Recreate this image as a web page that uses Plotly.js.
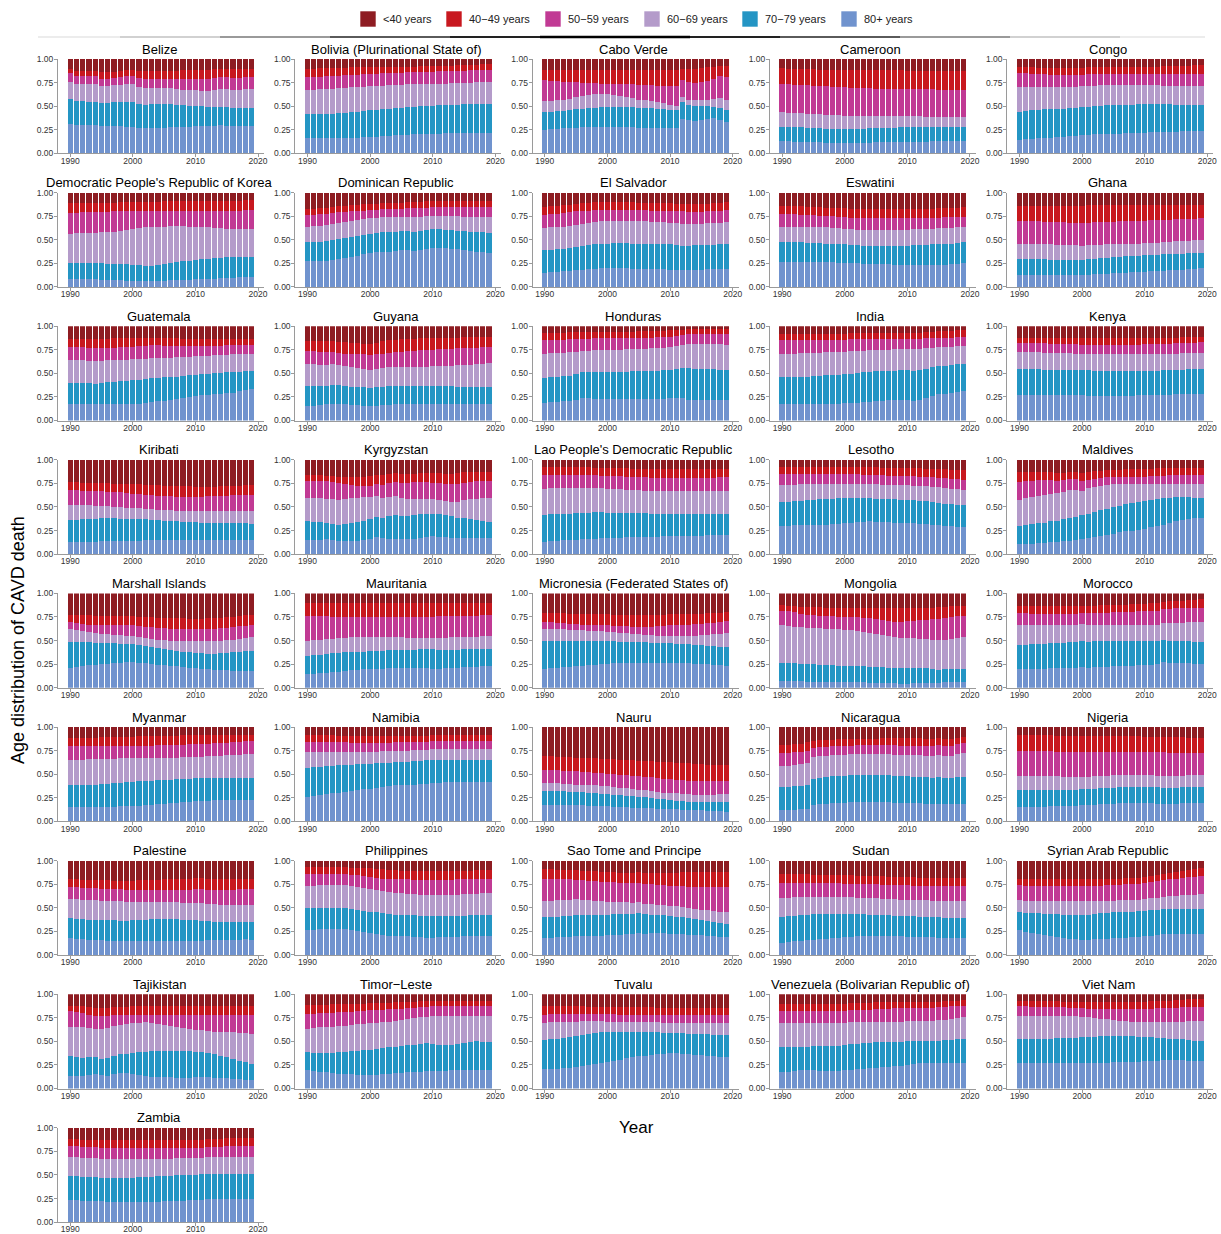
<!DOCTYPE html>
<html>
<head>
<meta charset="utf-8">
<script src="https://cdn.plot.ly/plotly-3.0.1.min.js"></script>
<style>
  html, body { margin: 0; padding: 0; background: #ffffff; }
  #chart { width: 1221px; height: 1234px; }
</style>
</head>
<body>
<div id="chart"></div>
<script>
// ---------------- DATA ----------------
const years = [1990,1991,1992,1993,1994,1995,1996,1997,1998,1999,2000,2001,2002,2003,2004,2005,2006,2007,2008,2009,2010,2011,2012,2013,2014,2015,2016,2017,2018,2019];

// age groups, bottom of the stack first
const ageGroups = ["80+ years", "70\u221279 years", "60\u221269 years", "50\u221259 years", "40\u221249 years", "<40 years"];
const ageColors = ["#7093CE", "#2495C4", "#B49BCA", "#C13A94", "#C8181F", "#8E1C22"];
// legend order, left to right
const legendOrder = ["<40 years", "40\u221249 years", "50\u221259 years", "60\u221269 years", "70\u221279 years", "80+ years"];

// For every country: cumulative share (%) at the top of 80+, 70-79, 60-69, 50-59, 40-49 (the rest is <40)
const Belize = [
 [31,30,30,30,30,29,29,29,29,28,28,27,27,27,27,27,28,28,28,28,29,29,29,29,30,29,29,29,29,29],
 [58,55,55,54,54,53,53,54,54,54,54,52,51,52,52,52,52,51,51,50,50,50,49,49,49,49,48,48,48,48],
 [76,73,73,73,73,71,71,72,72,73,73,70,69,69,69,69,69,68,67,67,67,66,66,67,68,68,67,67,68,68],
 [85,82,82,82,82,79,79,80,81,82,82,80,79,79,79,79,79,79,79,79,79,79,79,80,81,81,80,80,81,81],
 [89,87,87,87,87,86,86,86,87,88,88,87,87,87,87,87,87,87,88,88,88,88,88,89,89,89,89,89,89,89]];
const Bolivia = [
 [16,16,16,16,16,16,16,16,16,17,17,17,18,18,19,19,19,20,20,21,21,21,22,22,22,22,22,22,22,22],
 [42,42,42,42,42,43,43,44,44,45,46,46,47,47,48,48,49,49,50,50,50,51,51,51,51,52,52,52,52,52],
 [67,67,68,68,68,69,69,70,70,70,71,71,71,72,72,72,73,73,73,74,74,74,74,75,75,75,75,76,76,76],
 [81,81,81,82,82,82,83,83,83,84,84,84,85,85,85,85,86,86,86,86,86,87,87,87,87,87,88,88,88,88],
 [89,89,90,90,90,90,90,91,91,91,91,91,92,92,92,92,92,92,93,93,93,93,93,93,94,94,94,94,95,95]];
const CaboVerde = [
 [25,26,26,27,27,27,28,28,28,28,28,28,28,28,28,27,27,27,27,27,27,27,36,35,34,35,36,37,35,33],
 [44,44,45,45,46,47,47,48,48,49,49,49,49,49,49,48,48,48,47,47,46,46,54,51,50,50,50,49,48,46],
 [55,55,56,57,58,60,61,62,63,63,63,62,61,60,59,57,56,55,54,53,51,50,60,57,56,56,57,58,59,57],
 [78,77,77,76,76,76,75,75,75,74,74,74,73,73,73,72,72,72,71,71,71,71,78,76,75,76,77,79,82,81],
 [88,88,88,88,88,88,88,88,88,88,88,88,88,88,88,88,88,88,88,88,88,88,89,89,89,90,91,92,93,93]];
const Cameroon = [
 [13,13,12,12,12,12,12,11,11,11,11,11,11,11,11,12,12,12,12,12,12,12,12,12,13,13,13,13,13,13],
 [28,28,28,28,27,27,27,26,26,26,26,26,26,26,27,27,27,27,27,28,28,28,28,28,28,28,28,28,28,28],
 [44,43,43,43,42,42,42,41,41,41,40,40,40,40,40,40,40,40,40,40,40,40,40,39,39,39,39,39,39,39],
 [73,73,72,72,72,71,71,71,70,70,70,69,69,69,69,68,68,68,68,68,68,68,68,68,68,67,67,67,67,67],
 [90,89,89,89,89,89,88,88,88,88,88,88,88,88,88,88,88,88,88,88,87,87,87,87,87,87,87,87,87,87]];
const Congo = [
 [14,15,15,16,16,16,17,17,18,18,19,19,20,20,21,21,21,22,22,22,22,23,23,23,23,23,24,24,24,24],
 [44,45,46,46,47,47,47,47,48,48,49,49,50,50,51,51,51,51,51,52,52,52,52,52,52,51,51,51,51,51],
 [70,70,70,70,70,70,70,70,70,70,71,71,71,72,72,72,72,72,72,72,72,72,72,71,71,71,71,71,71,71],
 [85,85,84,84,84,83,83,83,83,83,83,84,84,84,84,84,84,84,84,84,84,84,84,84,84,84,84,84,84,84],
 [91,91,91,90,90,90,90,90,90,90,90,91,91,91,91,91,91,91,92,92,92,92,92,93,93,93,93,93,94,94]];
const DPRKorea = [
 [8,8,8,8,8,7,7,7,7,6,6,6,6,6,6,6,7,7,7,7,8,8,8,8,9,9,9,10,10,11],
 [25,25,25,25,25,25,24,24,24,24,23,23,22,22,23,24,25,26,27,28,29,30,30,31,31,32,32,32,32,32],
 [56,57,57,57,57,58,58,58,59,60,61,62,63,63,64,64,65,65,65,64,64,63,63,62,62,61,61,61,61,61],
 [78,78,79,79,79,79,79,80,80,80,80,80,80,80,80,80,80,80,80,80,80,81,81,81,81,81,81,81,82,82],
 [89,89,89,89,89,89,89,89,90,90,90,90,90,90,90,91,91,91,91,91,91,91,91,91,91,91,91,91,92,92]];
const DominicanRepublic = [
 [27,27,28,28,29,30,31,32,33,35,36,37,37,37,38,39,39,38,39,40,41,41,41,40,40,39,38,37,37,36],
 [48,48,48,49,50,51,52,53,54,55,56,57,58,58,58,59,59,58,59,60,61,61,60,60,59,59,58,58,58,57],
 [64,65,65,66,67,68,69,70,71,72,73,73,74,74,74,74,74,74,74,75,75,75,75,75,75,74,74,74,74,74],
 [76,76,77,77,78,79,79,80,81,81,82,82,83,83,83,83,84,84,84,84,85,85,85,85,85,85,85,85,85,85],
 [83,83,84,84,85,86,86,87,87,88,88,88,89,89,89,89,90,90,90,91,91,91,91,91,91,91,91,91,91,91]];
const ElSalvador = [
 [15,16,16,17,17,18,18,19,19,20,20,20,20,20,19,19,19,19,19,19,18,18,18,18,18,18,19,19,19,19],
 [39,39,40,40,41,42,43,44,45,46,46,47,47,47,46,46,46,46,45,45,45,44,43,43,44,44,44,44,45,45],
 [62,63,64,64,65,66,67,68,69,70,70,70,70,70,70,70,70,69,69,69,68,68,67,67,67,67,68,68,68,69],
 [76,77,77,78,79,80,80,81,82,82,82,82,82,82,82,82,82,81,81,81,81,80,80,79,79,79,80,80,81,82],
 [85,86,86,87,87,88,89,89,90,90,90,90,90,90,90,89,89,89,89,89,89,88,88,88,88,88,88,89,89,90]];
const Eswatini = [
 [26,26,26,26,26,26,26,26,26,25,25,25,25,24,24,24,24,24,23,23,23,23,23,23,23,23,23,24,24,25],
 [48,48,48,48,47,47,47,46,46,45,45,44,44,43,43,43,43,43,43,43,43,44,44,44,45,45,46,46,47,48],
 [64,64,64,64,63,63,63,63,62,62,61,61,60,60,60,60,60,60,60,60,60,61,61,61,61,62,62,62,63,63],
 [77,77,77,76,76,76,75,75,75,74,74,73,73,73,73,73,73,73,73,73,73,73,73,73,73,73,74,74,74,74],
 [86,86,86,86,85,85,85,84,84,84,84,83,83,83,83,83,83,83,83,83,83,83,83,83,83,84,84,84,84,85]];
const Ghana = [
 [13,13,13,13,13,13,13,13,13,13,13,13,14,14,14,15,15,15,16,16,16,17,17,17,18,18,18,19,19,20],
 [30,30,30,30,30,29,29,29,29,29,29,30,30,31,31,32,32,33,33,33,34,34,34,35,35,35,35,36,36,36],
 [45,45,45,45,45,45,44,44,44,44,43,44,44,44,45,45,45,46,46,46,47,47,47,48,48,49,49,49,50,50],
 [70,70,70,70,69,69,69,69,68,68,68,68,69,69,69,69,70,70,70,70,70,71,71,71,71,72,72,72,72,73],
 [86,86,86,86,86,86,86,86,86,86,86,87,87,87,87,87,87,87,87,87,87,87,87,87,87,87,87,87,87,87]];
const Guatemala = [
 [18,18,17,17,17,17,18,18,18,18,18,18,19,20,21,21,22,23,24,25,26,27,27,28,28,29,29,31,32,33],
 [40,40,40,40,39,40,41,41,42,42,43,43,44,45,45,46,46,46,47,48,48,49,49,50,50,51,51,51,52,53],
 [64,64,64,63,63,63,64,64,64,64,65,65,65,66,66,66,66,67,67,67,68,68,68,69,69,69,70,70,70,70],
 [78,78,78,77,77,77,77,77,78,78,78,79,79,80,80,79,79,79,79,79,79,79,79,79,79,80,80,80,80,80],
 [86,86,86,86,86,86,86,87,87,87,87,87,88,88,88,87,87,87,86,86,86,86,86,86,86,86,86,86,86,86]];
const Guyana = [
 [15,15,16,17,17,17,17,16,16,15,15,15,16,16,17,17,17,17,17,17,17,18,17,17,17,17,17,17,17,17],
 [37,37,37,37,38,38,37,36,36,35,34,35,36,37,37,37,37,37,37,37,37,37,37,37,36,36,36,36,36,36],
 [60,60,59,59,60,59,58,57,56,55,54,55,56,57,57,57,57,57,57,57,58,58,58,58,59,59,59,60,60,61],
 [74,74,73,73,73,72,71,70,70,70,69,70,71,72,73,73,74,74,75,75,75,76,76,76,77,77,77,77,78,78],
 [84,84,84,84,84,83,83,82,82,81,81,82,84,85,85,86,86,86,87,87,87,88,88,88,88,89,89,89,89,89]];
const Honduras = [
 [19,20,20,21,21,22,24,24,23,23,23,23,23,23,23,23,23,23,23,23,24,24,24,22,22,22,22,22,22,22],
 [45,46,46,47,47,49,51,51,51,51,51,51,51,51,52,52,52,53,53,54,54,55,56,56,55,55,55,55,54,54],
 [71,72,72,72,73,73,74,74,75,75,75,75,75,76,76,76,76,77,77,77,78,79,80,81,81,81,81,81,81,80],
 [85,85,85,85,86,86,86,86,87,87,87,87,87,87,88,88,88,88,89,89,89,90,91,92,92,92,92,92,92,92],
 [93,93,93,93,94,94,94,94,94,94,94,94,94,94,94,95,95,95,95,95,96,96,96,97,97,97,97,97,97,97]];
const India = [
 [17,17,17,17,17,18,18,18,18,18,19,19,19,20,20,21,21,22,22,22,22,21,22,24,26,28,28,29,30,31],
 [46,46,46,46,46,47,47,48,48,48,49,49,50,51,51,52,52,53,53,54,54,53,54,55,57,58,58,59,60,60],
 [71,71,71,72,72,72,72,73,73,73,73,74,74,74,75,75,75,75,76,76,76,76,76,77,77,78,78,78,79,79],
 [85,85,85,85,85,85,85,85,85,85,85,86,86,86,86,86,86,86,86,86,86,86,86,87,87,88,88,88,89,89],
 [92,92,92,92,92,92,92,92,92,92,92,93,93,93,93,93,93,93,93,93,93,93,93,94,94,95,95,95,96,96]];
const Kenya = [
 [27,27,27,27,27,27,27,27,27,27,27,26,26,26,26,26,26,26,26,27,27,27,27,27,27,28,28,28,28,28],
 [55,55,55,55,54,54,54,54,54,54,54,54,53,53,53,53,53,53,53,53,53,53,53,54,54,54,54,55,55,55],
 [73,73,73,73,72,72,72,72,72,71,71,71,70,70,70,70,70,70,70,70,71,71,71,71,71,71,72,72,72,72],
 [82,82,82,82,82,81,81,81,81,81,80,80,80,80,80,80,80,80,80,80,81,81,81,81,81,82,82,82,82,83],
 [88,88,88,88,88,88,88,88,88,87,87,87,87,87,87,87,87,87,87,87,88,88,88,88,88,88,89,89,89,89]];
const Kiribati = [
 [13,13,13,13,13,14,14,14,14,14,14,14,15,15,15,15,15,15,15,15,15,15,15,15,15,15,15,15,15,15],
 [36,36,37,37,37,38,38,38,37,37,37,37,37,36,36,35,35,35,34,34,34,33,33,33,33,33,33,33,33,32],
 [52,52,52,52,51,51,51,50,50,49,49,49,48,48,47,47,47,46,46,46,46,46,46,46,46,46,46,46,46,46],
 [68,68,67,67,67,67,66,66,66,65,64,64,63,63,62,62,62,61,61,61,61,61,62,62,62,62,63,63,63,63],
 [76,76,75,75,75,75,75,74,74,74,74,74,73,73,73,72,72,72,72,72,71,71,71,71,72,72,72,72,73,73]];
const Kyrgyzstan = [
 [15,15,15,16,15,14,14,14,14,15,16,18,17,16,16,16,16,16,17,18,19,18,18,17,17,17,17,17,17,17],
 [35,34,34,33,32,31,32,33,34,35,37,39,38,40,41,40,40,41,42,43,43,42,41,40,38,38,37,36,35,34],
 [59,59,59,58,58,57,58,59,60,61,61,62,60,61,62,59,58,58,58,58,58,57,56,55,55,57,58,58,59,59],
 [77,78,78,77,76,75,74,73,72,72,72,74,73,75,76,75,75,76,76,76,75,75,74,74,74,75,76,77,77,77],
 [84,84,84,83,83,82,82,82,82,82,83,84,84,85,86,85,85,85,86,86,86,86,85,85,86,87,87,87,87,87]];
const LaoPDR = [
 [13,14,14,15,15,15,16,16,16,17,17,17,17,18,18,18,18,18,18,19,19,19,19,19,19,19,20,20,20,20],
 [41,42,42,43,43,44,44,44,45,45,44,44,44,44,44,44,44,43,43,43,43,43,43,43,43,42,42,42,42,42],
 [69,70,70,70,70,70,70,70,70,70,69,69,69,68,68,68,67,67,67,67,67,67,67,67,67,67,67,67,67,67],
 [84,84,84,84,84,84,84,84,84,83,83,83,83,82,82,82,82,81,81,81,81,81,81,81,81,81,81,81,82,82],
 [92,92,92,92,92,92,92,92,91,91,91,91,91,91,90,90,90,90,90,90,90,90,90,90,90,90,90,90,90,90]];
const Lesotho = [
 [30,30,31,31,31,31,31,31,32,32,33,33,34,34,35,34,34,34,33,33,33,33,32,32,31,31,30,30,29,29],
 [55,55,56,56,57,57,58,58,58,59,59,59,59,59,59,58,58,58,58,57,57,57,56,56,55,54,53,53,52,52],
 [73,73,73,74,74,74,74,74,74,74,74,74,74,74,74,74,73,73,73,73,73,72,72,72,71,71,70,69,69,68],
 [85,85,85,85,85,85,85,85,85,85,85,85,85,84,84,84,84,83,83,83,83,83,82,82,82,81,81,80,80,79],
 [92,92,92,92,92,92,92,92,92,92,92,92,92,92,92,92,91,91,91,91,91,91,91,90,90,90,90,89,89,89]];
const Maldives = [
 [11,11,11,12,12,13,13,14,14,15,16,17,18,19,20,21,23,24,25,26,27,29,30,31,33,35,36,37,38,38],
 [30,31,32,33,33,35,35,37,38,39,41,43,45,47,48,50,51,53,54,55,56,57,58,59,60,61,61,61,60,60],
 [57,60,61,62,63,64,65,66,68,68,67,70,71,72,73,74,74,74,74,74,74,74,74,74,74,74,74,74,74,74],
 [76,78,78,79,79,79,78,79,80,80,77,79,80,81,82,82,82,82,82,82,82,83,83,83,84,84,84,84,84,84],
 [87,87,87,87,87,87,86,86,87,87,86,87,88,88,89,89,89,90,90,90,90,90,91,91,91,91,91,91,91,91]];
const MarshallIslands = [
 [21,22,23,24,24,25,25,26,26,27,27,26,26,25,24,24,23,23,22,21,21,20,20,19,19,19,18,18,18,18],
 [48,48,48,48,47,47,47,47,46,46,46,45,44,43,42,41,40,39,38,38,37,37,36,36,37,37,38,38,39,39],
 [62,61,60,59,58,57,57,56,56,55,55,54,53,52,51,51,50,50,49,49,49,49,49,49,50,51,51,52,53,54],
 [70,69,68,67,66,66,66,66,66,66,66,65,64,64,63,63,62,62,62,62,62,62,62,62,63,63,64,65,65,66],
 [77,77,77,77,76,76,76,76,76,76,76,75,75,75,74,74,74,74,74,73,73,73,74,74,74,75,75,76,77,77]];
const Mauritania = [
 [15,15,16,16,17,17,18,19,19,20,20,20,20,21,21,21,21,21,21,21,20,20,21,21,21,22,22,22,23,23],
 [34,35,35,36,37,37,38,38,38,38,39,39,39,40,40,40,40,40,41,41,41,40,40,40,40,41,41,41,41,41],
 [50,51,51,52,52,53,53,54,54,54,54,54,54,54,54,54,53,53,53,53,53,53,53,54,54,54,54,54,55,55],
 [76,76,76,76,75,75,75,75,75,75,75,75,75,75,75,75,75,75,75,75,75,76,76,76,76,76,76,76,77,77],
 [90,90,90,90,90,90,90,90,90,90,90,90,90,90,90,90,90,90,90,90,90,90,90,90,90,90,90,90,90,90]];
const Micronesia = [
 [20,21,21,22,22,23,23,24,24,25,25,26,26,26,26,26,26,26,26,26,26,26,26,26,25,25,25,24,24,23],
 [49,49,49,49,49,49,49,49,49,49,49,49,48,48,48,48,48,47,47,47,47,46,46,46,45,45,44,44,43,43],
 [62,62,62,62,61,61,61,60,60,60,59,59,58,58,57,57,56,56,55,55,55,55,55,55,55,56,56,57,57,58],
 [70,70,69,69,68,68,67,67,66,66,66,65,65,65,64,64,64,64,65,65,66,66,67,67,68,68,69,69,70,71],
 [79,79,79,79,78,78,78,78,78,78,78,77,77,77,77,77,77,77,77,77,78,78,78,78,78,78,79,79,79,80]];
const Mongolia = [
 [7,7,7,7,6,6,6,6,6,6,6,6,6,6,5,5,5,5,5,4,4,5,5,5,5,5,6,6,6,6],
 [26,26,26,25,25,25,24,24,24,23,23,23,23,23,22,22,22,21,21,21,21,21,21,21,20,19,20,20,20,20],
 [66,65,64,64,63,63,63,62,62,62,61,61,60,59,58,57,56,55,54,53,53,53,52,52,51,51,51,52,53,54],
 [81,81,80,78,77,77,76,76,76,75,75,75,75,74,74,73,72,71,70,70,71,71,72,72,73,73,74,75,76,76],
 [88,87,87,86,86,86,86,85,85,85,85,85,85,85,85,84,84,84,84,84,84,84,85,85,85,86,86,87,87,87]];
const Morocco = [
 [20,20,20,20,20,21,21,21,21,21,22,21,22,22,22,23,23,23,23,24,24,24,25,27,26,26,26,26,25,25],
 [45,45,46,46,46,47,47,47,48,48,49,48,49,49,49,49,49,49,50,50,50,50,50,51,50,50,49,49,48,48],
 [66,66,66,66,66,66,67,67,67,67,68,67,67,67,67,67,67,67,67,67,67,67,67,69,69,69,69,70,70,70],
 [79,79,78,78,78,78,78,78,78,78,79,79,79,79,79,80,80,80,80,81,81,81,81,83,83,84,84,85,85,85],
 [87,87,87,87,87,87,87,87,87,87,87,87,87,88,88,88,88,88,89,89,89,90,90,91,92,92,92,93,93,94]];
const Myanmar = [
 [15,15,15,15,15,15,15,15,16,16,16,16,17,17,18,18,19,19,20,21,22,22,22,23,23,23,23,23,23,23],
 [38,39,39,39,39,40,40,41,41,42,42,43,43,43,44,44,44,45,45,45,46,46,46,46,46,46,46,46,46,46],
 [65,65,65,66,66,66,66,66,67,67,67,67,67,67,67,67,67,67,68,68,68,68,69,69,69,70,70,70,71,71],
 [80,80,80,80,80,80,80,80,80,80,80,80,80,80,81,81,81,81,81,82,82,82,82,83,83,83,84,84,85,85],
 [88,88,88,88,88,89,89,89,89,89,89,90,90,90,90,90,90,90,91,91,91,91,91,91,92,92,92,92,92,92]];
const Namibia = [
 [26,27,28,29,30,30,31,32,33,34,34,35,36,37,38,38,39,39,40,40,41,41,42,42,42,42,42,42,42,42],
 [57,58,58,59,59,60,60,60,61,61,61,62,62,62,63,63,63,64,64,65,65,65,65,65,65,65,65,65,65,65],
 [73,74,74,74,74,74,74,74,74,74,74,74,75,75,75,75,75,76,76,76,77,77,77,77,77,77,77,77,77,77],
 [84,84,84,84,84,84,84,83,83,83,83,83,83,83,84,84,84,84,84,84,85,85,85,85,85,85,85,85,85,85],
 [91,91,91,91,91,90,90,90,90,90,90,90,90,90,90,90,90,90,90,90,91,91,91,91,92,92,92,92,92,92]];
const Nauru = [
 [17,17,17,17,17,17,17,16,16,16,16,15,15,15,14,14,14,14,13,13,13,13,12,12,12,12,11,11,11,10],
 [32,32,32,32,31,31,31,30,30,29,29,28,28,27,27,26,26,25,24,24,23,22,22,21,21,20,20,20,20,20],
 [41,41,41,40,40,39,39,38,38,37,37,36,35,35,34,33,33,32,31,30,30,30,29,29,28,28,28,28,29,29],
 [54,54,54,53,53,53,52,52,51,51,50,50,49,49,48,48,47,47,46,45,45,44,44,43,43,43,43,43,43,43],
 [69,69,68,68,68,67,67,67,67,66,66,66,65,65,65,64,64,64,63,63,63,62,62,62,61,61,60,60,60,60]];
const Nicaragua = [
 [12,12,12,13,13,17,18,18,19,19,19,20,20,20,20,20,20,20,19,19,19,19,19,18,18,18,18,18,18,18],
 [36,36,37,37,39,45,46,47,48,48,48,49,49,49,49,49,49,49,48,48,48,47,47,47,46,47,46,46,47,47],
 [59,59,60,61,62,68,69,69,70,70,70,71,71,71,71,71,71,71,70,70,70,70,70,69,69,70,69,69,71,72],
 [72,72,73,74,75,78,79,79,80,80,80,80,81,81,81,81,81,81,81,80,80,80,80,80,80,81,80,80,82,83],
 [81,81,82,82,84,85,86,86,86,87,87,87,87,87,87,87,88,88,88,88,88,88,88,87,87,88,87,87,88,89]];
const Nigeria = [
 [15,15,15,15,15,16,16,16,16,16,17,17,17,18,18,18,19,19,19,19,19,19,18,18,18,18,19,19,19,19],
 [33,33,33,33,33,33,33,33,33,33,34,34,34,35,35,35,36,36,36,36,36,36,36,35,35,35,36,36,36,36],
 [48,48,48,48,48,48,48,47,47,47,47,47,48,48,48,49,49,49,49,49,49,49,48,48,48,48,48,49,49,49],
 [75,75,75,75,75,75,74,74,74,74,74,74,74,74,74,73,73,73,73,73,73,73,73,73,72,72,72,72,72,72],
 [91,91,91,91,91,91,90,90,90,90,90,90,90,90,90,90,90,90,90,90,89,89,89,89,89,89,89,88,88,88]];
const Palestine = [
 [18,17,17,16,16,16,15,15,15,15,15,15,15,15,15,15,15,15,15,15,15,15,16,16,16,16,16,16,17,16],
 [39,38,38,37,37,37,37,37,36,36,37,37,37,38,38,38,38,38,37,37,37,36,36,35,35,35,35,35,35,35],
 [59,59,58,58,58,57,57,57,57,56,56,56,56,56,56,56,56,56,55,55,55,55,54,54,53,53,53,53,53,53],
 [72,72,71,71,71,70,70,70,70,69,69,69,69,69,69,69,69,69,69,69,70,70,69,69,69,69,69,70,70,70],
 [80,80,79,79,79,79,79,78,78,78,78,79,79,79,79,80,80,80,81,81,82,82,81,80,80,81,81,81,81,81]];
const Philippines = [
 [26,26,27,27,27,27,27,26,25,24,23,22,21,20,20,20,20,19,19,18,18,19,19,19,19,20,20,20,20,20],
 [50,50,50,50,50,50,50,49,48,47,46,45,44,43,42,42,42,42,41,41,41,41,41,41,41,41,42,42,42,42],
 [73,73,74,74,74,74,74,73,72,71,70,69,68,67,66,66,65,65,64,64,63,63,64,64,64,65,65,65,66,66],
 [86,86,86,86,86,86,86,85,85,84,83,82,81,81,80,80,80,79,79,79,79,79,79,79,80,80,80,80,81,81],
 [93,93,93,93,93,93,93,92,92,92,92,91,91,90,90,89,89,89,89,89,89,89,89,89,89,89,89,90,90,90]];
const SaoTome = [
 [18,18,19,19,19,20,20,20,20,20,21,21,21,22,22,23,22,23,23,23,22,22,22,21,21,21,20,20,19,19],
 [40,40,40,41,41,42,42,42,42,42,42,43,43,43,43,44,43,42,42,42,41,40,40,39,38,37,36,35,34,33],
 [57,57,58,58,58,59,58,58,57,57,56,56,56,56,55,56,54,54,53,53,52,52,51,50,49,48,48,47,46,46],
 [81,81,80,80,80,79,79,78,78,77,77,77,76,76,76,76,75,75,74,74,73,73,73,72,72,72,72,72,72,72],
 [91,91,90,90,90,90,89,89,89,88,88,88,87,87,87,88,87,87,87,87,87,87,88,88,88,88,88,88,88,88]];
const Sudan = [
 [13,14,15,15,16,16,17,17,18,18,19,19,20,20,20,20,20,20,20,20,19,19,19,19,19,18,18,18,18,18],
 [40,41,41,42,42,43,43,43,43,43,43,43,43,43,42,42,42,42,41,41,41,41,40,40,40,40,39,39,39,39],
 [60,60,61,61,61,61,61,61,61,61,61,61,60,60,60,60,59,59,59,58,58,58,58,58,57,57,57,57,57,57],
 [76,76,76,76,76,76,76,76,76,76,75,75,75,75,75,75,74,74,74,74,74,73,73,73,73,73,73,73,73,73],
 [86,86,86,86,86,85,85,85,85,85,85,85,84,84,84,84,84,83,83,83,83,83,82,82,82,82,82,82,82,82]];
const Syria = [
 [26,24,23,22,21,20,19,18,17,17,16,16,17,17,17,18,18,18,19,19,20,20,21,22,22,22,22,22,22,22],
 [46,44,44,44,43,43,43,42,42,42,42,42,43,44,44,45,45,46,46,47,47,48,48,49,49,49,49,49,49,49],
 [58,57,57,57,57,57,57,57,57,57,57,57,57,57,57,57,58,58,58,58,59,60,60,61,62,62,63,64,64,65],
 [74,73,73,73,73,73,73,73,73,73,73,73,73,73,74,74,74,75,75,75,76,77,78,79,80,81,82,83,83,84],
 [81,81,81,81,80,80,80,80,80,80,81,81,81,81,81,81,81,82,82,82,83,84,85,86,87,88,89,90,91,92]];
const Tajikistan = [
 [13,13,13,14,15,14,13,15,16,16,15,14,13,12,12,12,12,11,11,11,12,12,12,11,11,11,10,10,9,9],
 [34,33,32,33,33,31,32,35,37,37,38,39,39,40,40,40,40,40,40,40,39,39,38,37,35,33,31,29,28,26],
 [65,65,65,64,63,63,64,66,67,68,69,69,70,69,68,67,66,65,64,63,62,62,61,60,60,60,60,59,59,58],
 [82,81,80,78,77,77,77,78,78,78,78,78,78,78,78,78,78,78,78,78,78,78,78,78,78,78,78,78,78,78],
 [88,88,87,86,85,85,85,86,86,86,87,87,88,88,88,88,88,88,88,88,88,88,88,88,88,88,88,88,88,88]];
const TimorLeste = [
 [20,19,18,17,16,15,15,15,14,14,14,14,15,15,16,16,17,17,18,19,19,19,19,20,20,20,20,20,20,20],
 [39,38,38,38,38,39,39,40,40,41,41,42,43,44,44,45,46,46,47,48,47,46,46,46,47,48,49,50,49,49],
 [63,64,65,65,65,66,66,67,68,68,69,69,70,71,72,73,74,75,76,76,77,77,77,77,77,77,77,77,77,77],
 [79,79,80,80,80,81,81,81,82,82,83,83,83,84,84,84,85,85,86,86,87,87,87,87,87,87,87,87,87,87],
 [89,89,89,89,90,90,90,90,90,90,91,91,91,91,92,92,92,92,93,93,93,93,93,93,93,93,93,93,93,93]];
const Tuvalu = [
 [21,21,21,22,22,23,24,25,26,27,28,29,30,32,33,34,35,36,37,37,38,38,37,37,36,36,35,34,33,33],
 [51,52,53,54,55,56,57,58,59,60,60,60,60,60,60,60,60,60,60,59,59,59,59,58,58,58,58,57,57,57],
 [69,70,70,71,71,71,72,72,72,72,71,71,70,70,70,70,70,70,70,69,69,69,69,69,69,69,69,69,69,69],
 [78,79,79,79,79,79,79,79,79,79,79,79,78,78,78,78,78,78,78,78,78,78,78,78,78,78,78,78,78,78],
 [87,87,87,87,87,87,87,86,86,86,86,86,86,86,86,86,86,86,85,85,85,85,85,85,85,85,85,85,85,85]];
const Venezuela = [
 [17,18,19,20,20,20,19,19,19,19,20,20,21,21,22,22,23,23,24,24,25,26,27,27,27,27,27,27,27,27],
 [44,44,44,44,44,45,45,45,45,45,46,47,47,48,48,49,49,49,49,49,50,50,50,50,50,50,51,51,52,52],
 [69,69,69,69,69,69,69,69,69,69,69,70,70,70,70,71,71,71,71,71,72,72,72,72,72,73,73,74,75,76],
 [82,82,82,82,82,82,82,82,82,82,82,83,83,83,83,84,84,84,85,85,85,85,85,85,85,86,86,87,87,88],
 [90,90,90,90,90,90,90,90,90,90,90,91,91,91,91,92,92,92,92,92,92,92,92,92,92,92,93,93,93,94]];
const VietNam = [
 [27,27,27,27,27,27,27,27,27,27,27,27,27,27,27,28,28,28,28,28,29,29,29,30,30,30,30,29,29,29],
 [53,53,53,53,53,53,54,54,54,54,55,55,55,56,56,56,56,56,56,55,55,55,54,54,53,52,52,51,50,50],
 [77,77,77,77,77,77,77,77,77,77,76,76,75,74,74,73,72,72,71,71,71,71,71,71,71,71,71,72,72,72],
 [87,87,86,86,86,86,86,86,85,85,85,84,84,84,84,84,84,84,84,84,84,84,85,85,85,85,86,86,86,86],
 [93,93,93,93,93,93,93,92,92,92,92,92,92,92,92,92,92,92,92,92,92,93,93,93,93,94,94,95,95,95]];
const Zambia = [
 [23,23,22,22,22,22,21,21,21,21,21,21,21,21,21,22,22,22,22,23,23,23,24,24,24,24,24,25,25,25],
 [49,49,48,48,48,47,47,47,47,47,47,48,48,48,49,49,49,50,50,50,50,51,51,51,51,51,51,51,51,51],
 [69,69,68,68,68,67,67,67,67,67,67,67,67,67,67,67,67,68,68,68,68,68,69,69,69,69,69,69,69,69],
 [81,81,80,80,80,79,79,79,79,79,79,79,79,79,79,79,79,79,79,79,79,79,80,80,80,81,81,81,81,81],
 [88,88,87,87,87,87,87,87,87,87,87,87,87,87,87,87,87,87,87,87,87,87,88,88,88,89,89,89,89,89]];

const countries = [
 "Belize","Bolivia (Plurinational State of)","Cabo Verde","Cameroon","Congo",
 "Democratic People's Republic of Korea","Dominican Republic","El Salvador","Eswatini","Ghana",
 "Guatemala","Guyana","Honduras","India","Kenya",
 "Kiribati","Kyrgyzstan","Lao People's Democratic Republic","Lesotho","Maldives",
 "Marshall Islands","Mauritania","Micronesia (Federated States of)","Mongolia","Morocco",
 "Myanmar","Namibia","Nauru","Nicaragua","Nigeria",
 "Palestine","Philippines","Sao Tome and Principe","Sudan","Syrian Arab Republic",
 "Tajikistan","Timor\u2212Leste","Tuvalu","Venezuela (Bolivarian Republic of)","Viet Nam",
 "Zambia"];
const countrySeries = [
 Belize, Bolivia, CaboVerde, Cameroon, Congo,
 DPRKorea, DominicanRepublic, ElSalvador, Eswatini, Ghana,
 Guatemala, Guyana, Honduras, India, Kenya,
 Kiribati, Kyrgyzstan, LaoPDR, Lesotho, Maldives,
 MarshallIslands, Mauritania, Micronesia, Mongolia, Morocco,
 Myanmar, Namibia, Nauru, Nicaragua, Nigeria,
 Palestine, Philippines, SaoTome, Sudan, Syria,
 Tajikistan, TimorLeste, Tuvalu, Venezuela, VietNam,
 Zambia];

const xTicks = [1990, 2000, 2010, 2020];
const yTicks = [0, 0.25, 0.5, 0.75, 1];
const yTickText = ["0.00", "0.25", "0.50", "0.75", "1.00"];

// ---------------- LAYOUT ----------------
const W = 1221, H = 1234;
const NCOL = 5;
const colLeft = 58, colStep = 237.3, panelW = 206;
const rowTop = 59, rowStep = 133.6, panelH = 94.3;

const FONT = "Liberation Sans, Arial, Helvetica, sans-serif";
const traces = [];
const layout = {
  width: W, height: H,
  margin: {l: 0, r: 0, t: 0, b: 0},
  paper_bgcolor: "#ffffff",
  plot_bgcolor: "#ffffff",
  font: {family: FONT, color: "#333333"},
  barmode: "stack",
  bargap: 0,
  showlegend: false,
  annotations: [],
  shapes: []
};

countries.forEach((name, i) => {
  const r = Math.floor(i / NCOL), c = i % NCOL;
  const x0 = colLeft + c * colStep, x1 = x0 + panelW;
  const yTop = rowTop + r * rowStep, yBot = yTop + panelH;
  const xa = i === 0 ? "x" : "x" + (i + 1);
  const ya = i === 0 ? "y" : "y" + (i + 1);
  const xkey = i === 0 ? "xaxis" : "xaxis" + (i + 1);
  const ykey = i === 0 ? "yaxis" : "yaxis" + (i + 1);

  layout[xkey] = {
    domain: [x0 / W, x1 / W], anchor: ya,
    range: [1988.05, 2020.95], tickvals: xTicks, ticktext: xTicks.map(String),
    ticks: "outside", ticklen: 3, tickwidth: 1, tickcolor: "#9a9a9a",
    ticklabelstandoff: -4,
    showline: true, linecolor: "#9a9a9a", linewidth: 1,
    showgrid: false, zeroline: false, fixedrange: true,
    tickfont: {size: 8.5, color: "#333333", family: FONT}
  };
  layout[ykey] = {
    domain: [1 - yBot / H, 1 - yTop / H], anchor: xa,
    range: [0, 1], tickvals: yTicks, ticktext: yTickText,
    ticks: "outside", ticklen: 3, tickwidth: 1, tickcolor: "#9a9a9a",
    ticklabelstandoff: -1,
    showline: true, linecolor: "#9a9a9a", linewidth: 1,
    showgrid: false, zeroline: false, fixedrange: true,
    tickfont: {size: 8.5, color: "#333333", family: FONT}
  };

  layout.annotations.push({
    text: name, xref: "paper", yref: "paper",
    x: ((x0 + x1) / 2 - 2) / W, y: 1 - (yTop - 10) / H,
    xanchor: "center", yanchor: "middle", showarrow: false,
    font: {size: 13, color: "#000000", family: FONT}
  });

  const cum = countrySeries[i];
  for (let g = 0; g < ageGroups.length; g++) {
    const vals = years.map((_, k) => {
      const top = g < 5 ? cum[g][k] : 100;
      const bot = g === 0 ? 0 : cum[g - 1][k];
      return (top - bot) / 100;
    });
    traces.push({
      type: "bar", x: years, y: vals, xaxis: xa, yaxis: ya,
      name: ageGroups[g], showlegend: false, width: 0.84,
      marker: {color: ageColors[g], line: {width: 0}},
      hoverinfo: "skip"
    });
  }
});

// legend drawn as keys + labels (top centre)
const legendKeyX = [360, 446, 545, 644, 742, 841];
legendOrder.forEach((label, j) => {
  const col = ageColors[ageGroups.indexOf(label)];
  const kx = legendKeyX[j];
  layout.shapes.push({type: "rect", xref: "paper", yref: "paper",
    x0: kx / W, x1: (kx + 16) / W, y0: 1 - 27 / H, y1: 1 - 11 / H,
    fillcolor: col, line: {color: "rgba(255,255,255,0.6)", width: 1}});
  layout.annotations.push({text: label, xref: "paper", yref: "paper",
    x: (kx + 21) / W, y: 1 - 19 / H, xanchor: "left", yanchor: "middle",
    showarrow: false, font: {size: 11, color: "#222", family: FONT}});
});

// separator line under the legend (dark centre fading out to the sides)
const sepY = 1 - 37 / H;
[[38, 1205, "#e6e6e6", 1.5], [120, 1120, "#c8c8c8", 1.5], [220, 1010, "#9a9a9a", 1.8],
 [330, 900, "#5a5a5a", 2], [450, 780, "#222222", 2.2], [540, 690, "#000000", 2.5]].forEach(s => {
  layout.shapes.push({type: "line", xref: "paper", yref: "paper",
    x0: s[0] / W, x1: s[1] / W, y0: sepY, y1: sepY,
    line: {color: s[2], width: s[3]}});
});

// axis titles
layout.annotations.push({
  text: "Age distribution of CAVD death", xref: "paper", yref: "paper",
  x: 18 / W, y: 1 - 640 / H, xanchor: "center", yanchor: "middle",
  textangle: -90, showarrow: false, font: {size: 18, color: "#000", family: FONT}
});
layout.annotations.push({
  text: "Year", xref: "paper", yref: "paper",
  x: 636 / W, y: 1 - 1127 / H, xanchor: "center", yanchor: "middle",
  showarrow: false, font: {size: 17, color: "#000", family: FONT}
});

Plotly.newPlot("chart", traces, layout, {staticPlot: true, displayModeBar: false});
</script>
</body>
</html>
